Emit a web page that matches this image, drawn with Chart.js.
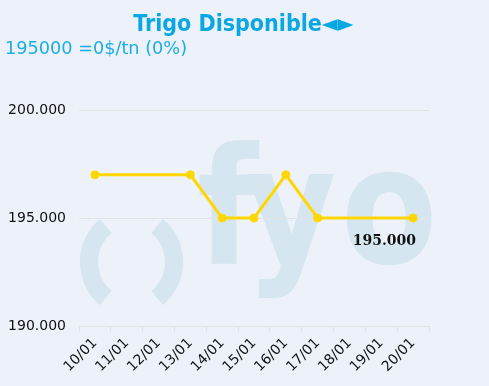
<!DOCTYPE html>
<html>
<head>
<meta charset="utf-8">
<script src="https://cdn.jsdelivr.net/npm/chart.js@4"></script>
<style>
  body { margin: 0; background: #edf1f9; }
  #wrap { width: 489px; height: 386px; }
</style>
</head>
<body>
<div id="wrap"><canvas id="trigoChart"></canvas></div>
<script>
// datos
const fechas = ['10/01', '11/01', '12/01', '13/01', '14/01', '15/01', '16/01', '17/01', '18/01', '19/01', '20/01'];
const precios = [197000, null, null, 197000, 195000, 195000, 197000, 195000, null, null, 195000];
const yTicks = [190000, 195000, 200000];
const titulo = 'Trigo Disponible◄►';
const subtitulo = '195000 =0$/tn (0%)';

const FAMILY = "'DejaVu Sans', Verdana, sans-serif";
const fmt = (v) => String(v).replace(/\B(?=(\d{3})+(?!\d))/g, '.');

// fondo + marca de agua "fyo"
const watermark = {
  id: 'watermark',
  beforeDraw(chart) {
    const ctx = chart.ctx;
    ctx.save();
    ctx.fillStyle = '#edf1f9';
    ctx.fillRect(0, 0, chart.width, chart.height);
    ctx.fillStyle = '#d5e6f0';
    ctx.strokeStyle = '#d5e6f0';
    ctx.lineWidth = 18;
    const a = 50 * Math.PI / 180;
    ctx.beginPath();
    ctx.arc(136, 262, 47, Math.PI - a, Math.PI + a);
    ctx.stroke();
    ctx.beginPath();
    ctx.arc(127, 262, 47, -a, a);
    ctx.stroke();
    ctx.font = "bold 163px 'DejaVu Sans'";
    ctx.textBaseline = 'alphabetic';
    ctx.translate(0, 263);
    ctx.scale(0.86, 1);
    ctx.fillText('f', 197 / 0.86, 0);
    ctx.fillText('y', 245 / 0.86, 0);
    ctx.fillText('o', 341 / 0.86, 0);
    ctx.restore();
  }
};

// etiqueta del ultimo valor
const lastLabel = {
  id: 'lastLabel',
  afterDatasetsDraw(chart) {
    const meta = chart.getDatasetMeta(0);
    const i = precios.length - 1;
    const pt = meta.data[i];
    const ctx = chart.ctx;
    ctx.save();
    ctx.font = "bold 14px 'DejaVu Serif'";
    ctx.fillStyle = '#111';
    ctx.textAlign = 'right';
    ctx.textBaseline = 'middle';
    ctx.fillText(fmt(precios[i]), pt.x + 3, pt.y + 23);
    ctx.restore();
  }
};

new Chart(document.getElementById('trigoChart'), {
  type: 'line',
  data: {
    labels: fechas,
    datasets: [{
      data: precios,
      borderColor: '#ffd700',
      backgroundColor: '#ffd700',
      borderWidth: 3,
      pointRadius: 4,
      pointBorderWidth: 1,
      pointHoverRadius: 4,
      tension: 0,
      spanGaps: true,
    }],
  },
  options: {
    responsive: true,
    maintainAspectRatio: false,
    animation: false,
    layout: { padding: { left: 5, right: 7, top: 0, bottom: 0 } },
    plugins: {
      legend: { display: false },
      tooltip: { enabled: false },
      title: {
        display: true,
        text: titulo,
        color: '#0aa8e2',
        font: { family: "'DejaVu Sans Condensed', 'DejaVu Sans', sans-serif", size: 23, weight: 'bold' },
        padding: { top: 11, bottom: 0 },
      },
      subtitle: {
        display: true,
        text: subtitulo,
        align: 'start',
        color: '#1aaee6',
        font: { family: FAMILY, size: 17.7 },
        padding: { top: 0.5, bottom: 49.7 },
      },
    },
    scales: {
      x: {
        offset: true,
        afterFit: (s) => { s.height = 60; },
        grid: { offset: true, drawOnChartArea: false, tickLength: 6, color: '#e4e4e4' },
        border: { color: '#e4e4e4' },
        ticks: {
          color: '#111',
          font: { family: FAMILY, size: 14 },
          minRotation: 45,
          maxRotation: 45,
          autoSkip: false,
        },
      },
      y: {
        min: 190000,
        max: 200000,
        afterFit: (s) => { s.width = 74; },
        afterBuildTicks: (s) => { s.ticks = yTicks.map((v) => ({ value: v })); },
        grid: { drawTicks: false, color: '#e4e4e4' },
        border: { display: false },
        ticks: {
          padding: 13,
          color: '#111',
          font: { family: FAMILY, size: 14 },
          callback: (v) => fmt(v),
        },
      },
      // eje vacio a la derecha, solo reserva el margen
      margen: {
        type: 'linear',
        position: 'right',
        afterFit: (s) => { s.width = 53; },
        grid: { display: false },
        border: { display: false },
        ticks: { display: false },
      },
    },
  },
  plugins: [watermark, lastLabel],
});
</script>
</body>
</html>
